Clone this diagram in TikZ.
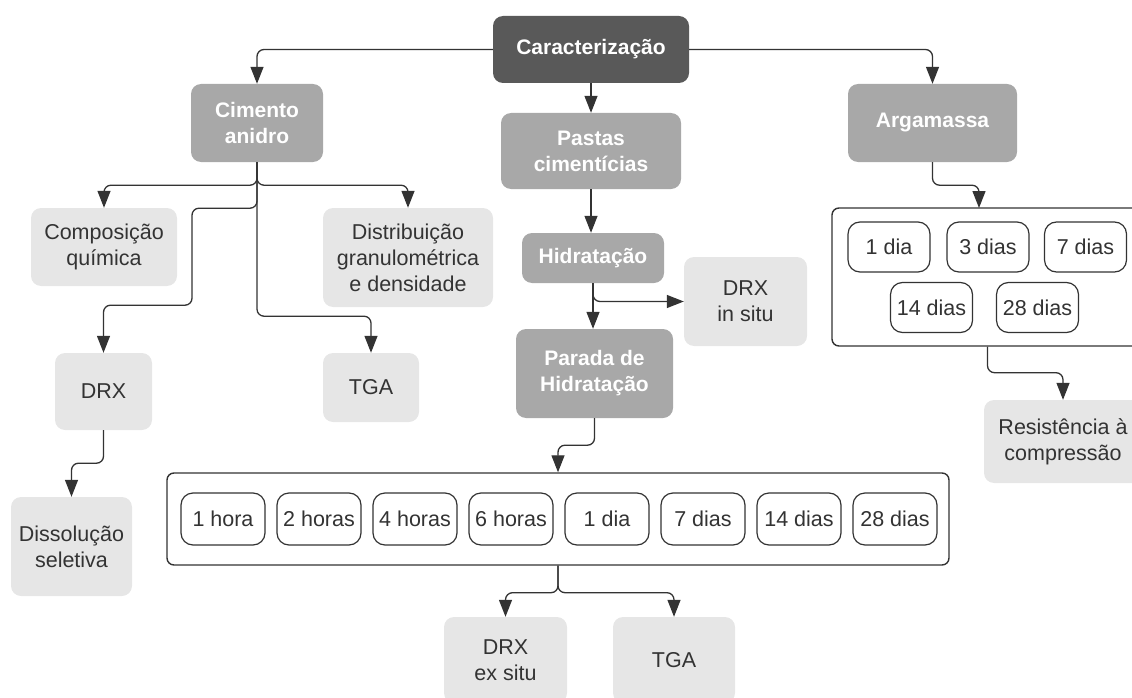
\documentclass[tikz,border=0pt]{standalone}
\usepackage{fontspec}
\setmainfont{Liberation Sans}
\usetikzlibrary{arrows.meta}

\definecolor{topgray}{HTML}{595959}
\definecolor{midgray}{HTML}{A8A8A8}
\definecolor{lightgray}{HTML}{E6E6E6}
\definecolor{linegray}{HTML}{333333}

\begin{document}
\begin{tikzpicture}[
    x=1pt, y=-1pt,
    every node/.style={font=\fontsize{21.5}{26}\selectfont, align=center, inner sep=0pt},
    topbox/.style={rectangle, rounded corners=10pt, fill=topgray, text=white, font=\fontsize{21}{26}\selectfont\bfseries},
    mainbox/.style={rectangle, rounded corners=10pt, fill=midgray, text=white, font=\fontsize{21}{26}\selectfont\bfseries},
    leafbox/.style={rectangle, rounded corners=10pt, fill=lightgray, text=linegray},
    timebox/.style={rectangle, rounded corners=12pt, draw=linegray, line width=1.2pt, fill=white, text=linegray, minimum width=84pt, minimum height=52pt},
    groupbox/.style={rectangle, rounded corners=7pt, draw=linegray, line width=1.4pt},
    conn/.style={draw=linegray, line width=1.3pt, rounded corners=7pt, -{Triangle[width=13pt,length=17pt]}},
]

\useasboundingbox (0,0) rectangle (1132,698);
\clip (0,0) rectangle (1132,698);

% main levels
\node[topbox, minimum width=196pt, minimum height=67pt] (carac) at (591,49.5) {Caracterização};
\node[mainbox, minimum width=132pt, minimum height=78pt] (cimento) at (257,123) {Cimento\\anidro};
\node[mainbox, minimum width=180pt, minimum height=76pt] (pastas) at (591,151) {Pastas\\cimentícias};
\node[mainbox, minimum width=169pt, minimum height=78pt] (argamassa) at (932.5,123) {Argamassa};
\node[mainbox, minimum width=142pt, minimum height=50pt] (hidrat) at (593,258) {Hidratação};
\node[mainbox, minimum width=157pt, minimum height=89pt] (parada) at (594.5,373.5) {Parada de\\Hidratação};

% cimento anidro
\node[leafbox, minimum width=146pt, minimum height=78pt] (comp) at (104,247) {Composição\\química};
\node[leafbox, minimum width=170pt, minimum height=99pt] (distr) at (408,257.5) {Distribuição\\granulométrica\\e densidade};
\node[leafbox, minimum width=97pt, minimum height=77pt] (drx) at (103.5,391.5) {DRX};
\node[leafbox, minimum width=96pt, minimum height=69pt] (tgaA) at (371,387.5) {TGA};
\node[leafbox, minimum width=121pt, minimum height=99pt] (dissol) at (71.5,546.5) {Dissolução\\seletiva};

% pastas
\node[leafbox, minimum width=123pt, minimum height=89pt] (drxin) at (745.5,301.5) {DRX\\in situ};
\node[groupbox, minimum width=782pt, minimum height=92pt] (horas) at (558,519) {};
\foreach \lbl [count=\i] in {1 hora, 2 horas, 4 horas, 6 horas, 1 dia, 7 dias, 14 dias, 28 dias}
  \node[timebox] (h\i) at ({127+96*\i},519) {\lbl};
\node[leafbox, minimum width=123pt, minimum height=86pt] (drxex) at (505.5,660) {DRX\\ex situ};
\node[leafbox, minimum width=122pt, minimum height=86pt] (tgaB) at (674,660) {TGA};

% argamassa
\node[groupbox, minimum width=311pt, minimum height=138pt] (grupo) at (987.5,277) {};
\foreach \lbl/\px/\py [count=\i] in {1 dia/889/247, 3 dias/988/247, 7 dias/1085.5/247, 14 dias/931.5/307.5, 28 dias/1037.5/307.5}
  \node[timebox, minimum width=82pt, minimum height=50pt] (d\i) at (\px,\py) {\lbl};
\node[leafbox, minimum width=158pt, minimum height=83pt] (resist) at (1063,441.5) {Resistência à\\compressão};
\coordinate (gin) at (979,208);

% connectors
\draw[conn] (carac.west) -| (cimento.north);
\draw[conn] (carac.east) -| (argamassa.north);
\draw[conn] (carac.south) -- (carac.south |- pastas.north);
\draw[conn] (pastas.south) -- (pastas.south |- hidrat.north);
\draw[conn] (hidrat.south) -- (hidrat.south |- parada.north);
\draw[conn] (hidrat.south) |- (drxin.west);
\draw[conn] (parada.south) -- ++(0,27) -| (horas.north);
\draw[conn] (horas.south) -- ++(0,27) -| (drxex.north);
\draw[conn] (horas.south) -- ++(0,27) -| (tgaB.north);

\draw[conn] (cimento.south) -- ++(0,23) -| (comp.north);
\draw[conn] (cimento.south) -- ++(0,23) -| (distr.north);
\draw[conn] (cimento.south) |- ++(-65,46) -- ++(0,97) -| (drx.north);
\draw[conn] (cimento.south) -- ++(0,154) -| (tgaA.north);
\draw[conn] (drx.south) -- ++(0,33) -| (dissol.north);

\draw[conn] (argamassa.south) -- ++(0,23) -| (gin);
\draw[conn] (grupo.south) -- ++(0,26) -| (resist.north);

\end{tikzpicture}
\end{document}
